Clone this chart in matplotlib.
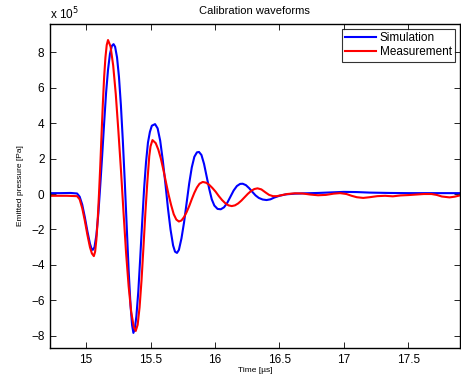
import matplotlib
matplotlib.use("Agg")
import matplotlib.pyplot as plt
from matplotlib.ticker import FuncFormatter

plt.rcParams['font.family'] = ['Liberation Sans', 'DejaVu Sans']

# --- dados (tempo em us, pressao em unidades de 1e5 Pa) ---
t_sim = [14.72, 14.80, 14.88, 14.93, 14.95, 14.97, 14.99, 15.01, 15.03, 15.042,
         15.052, 15.065, 15.08, 15.095, 15.11, 15.125, 15.14, 15.155, 15.17, 15.185, 15.20,
         15.213, 15.225, 15.24, 15.255, 15.27, 15.285, 15.30, 15.315, 15.33, 15.345,
         15.357, 15.367, 15.378, 15.39, 15.405, 15.42, 15.435, 15.45, 15.465, 15.48,
         15.495, 15.51, 15.535, 15.555, 15.575, 15.595, 15.615, 15.635, 15.655, 15.675,
         15.69, 15.705, 15.72, 15.74, 15.76, 15.78, 15.80, 15.82, 15.84, 15.86,
         15.876, 15.895, 15.915, 15.935, 15.955, 15.975, 15.995, 16.02, 16.045, 16.07,
         16.095, 16.12, 16.145, 16.17, 16.195, 16.215, 16.24, 16.265, 16.29, 16.315,
         16.34, 16.37, 16.40, 16.43, 16.46, 16.50, 16.55, 16.62, 16.70, 16.80,
         16.90, 17.00, 17.10, 17.20, 17.35, 17.50, 17.70, 17.90]
p_sim = [0.05, 0.05, 0.06, 0.03, -0.15, -0.6, -1.3, -2.1, -2.8, -3.08,
         -3.15, -3.0, -2.3, -1.1, 0.5, 2.2, 4.0, 5.7, 7.0, 7.9, 8.35,
         8.45, 8.3, 7.7, 6.6, 5.0, 3.0, 0.7, -1.8, -4.3, -6.3,
         -7.4, -7.83, -7.6, -6.9, -5.5, -3.6, -1.6, 0.3, 1.8, 2.9,
         3.5, 3.85, 3.94, 3.7, 3.0, 1.9, 0.6, -0.8, -2.0, -2.9,
         -3.25, -3.32, -3.15, -2.5, -1.6, -0.5, 0.6, 1.5, 2.1, 2.35,
         2.37, 2.2, 1.7, 1.0, 0.3, -0.3, -0.65, -0.84, -0.86, -0.75,
         -0.5, -0.15, 0.2, 0.45, 0.57, 0.58, 0.5, 0.33, 0.12, -0.08,
         -0.22, -0.31, -0.34, -0.3, -0.2, -0.1, -0.02, 0.02, 0.04, 0.06,
         0.09, 0.12, 0.11, 0.08, 0.06, 0.05, 0.05, 0.05]

t_med = [14.72, 14.85, 14.93, 14.95, 14.97, 14.99, 15.01, 15.03, 15.045, 15.06,
         15.07, 15.08, 15.09, 15.10, 15.11, 15.12, 15.13, 15.14, 15.15, 15.16,
         15.17, 15.18, 15.19, 15.21, 15.23, 15.25, 15.27, 15.29, 15.31, 15.33,
         15.35, 15.37, 15.385, 15.40, 15.415, 15.43, 15.445, 15.46, 15.475, 15.49,
         15.50, 15.515, 15.54, 15.56, 15.58, 15.60, 15.62, 15.64, 15.66, 15.68,
         15.70, 15.72, 15.74, 15.76, 15.78, 15.80, 15.82, 15.84, 15.86, 15.88,
         15.905, 15.93, 15.955, 15.98, 16.005, 16.03, 16.055, 16.08, 16.105, 16.13,
         16.155, 16.18, 16.205, 16.23, 16.255, 16.28, 16.305, 16.33, 16.36, 16.39,
         16.42, 16.45, 16.48, 16.52, 16.56, 16.62, 16.68, 16.74, 16.80, 16.86,
         16.92, 16.97, 17.02, 17.06, 17.10, 17.15, 17.20, 17.26, 17.32, 17.38,
         17.44, 17.50, 17.56, 17.62, 17.68, 17.72, 17.76, 17.82, 17.86, 17.90]
p_med = [-0.1, -0.1, -0.12, -0.3, -0.8, -1.5, -2.3, -3.0, -3.35, -3.5,
         -3.25, -2.55, -1.45, 0.0, 1.6, 3.4, 5.1, 6.6, 7.7, 8.4,
         8.68, 8.5, 8.3, 7.25, 5.65, 3.6, 1.4, -1.0, -3.3, -5.2,
         -6.65, -7.5, -7.72, -7.37, -6.38, -4.87, -3.0, -1.05, 0.67, 2.13,
         2.69, 3.04, 2.87, 2.51, 2.0, 1.35, 0.65, -0.04, -0.63, -1.14,
         -1.44, -1.55, -1.49, -1.3, -1.02, -0.68, -0.29, 0.07, 0.37, 0.58,
         0.68, 0.64, 0.52, 0.34, 0.13, -0.12, -0.34, -0.52, -0.64, -0.68,
         -0.64, -0.53, -0.37, -0.18, 0.01, 0.17, 0.28, 0.32, 0.26, 0.1,
         -0.05, -0.12, -0.12, -0.06, 0.0, 0.04, 0.03, -0.03, -0.07, -0.05,
         0.02, 0.05, 0.0, -0.1, -0.18, -0.22, -0.18, -0.12, -0.1, -0.13,
         -0.08, -0.06, -0.03, 0.0, 0.0, -0.05, -0.14, -0.19, -0.15, -0.08]

x_ticks = [15, 15.5, 16, 16.5, 17, 17.5]
y_ticks = [-8, -6, -4, -2, 0, 2, 4, 6, 8]

fig = plt.figure(figsize=(4.61, 3.82), dpi=100)
ax = fig.add_axes([0.1085, 0.089, 0.889, 0.848])

ax.plot(t_sim, [v * 1e5 for v in p_sim], color='blue', lw=1.5, label='Simulation')
ax.plot(t_med, [v * 1e5 for v in p_med], color='red', lw=1.5, label='Measurement')

ax.set_xlim(14.72, 17.9)
ax.set_ylim(-8.68e5, 9.58e5)
ax.set_xticks(x_ticks)
ax.set_yticks([v * 1e5 for v in y_ticks])
ax.xaxis.set_major_formatter(FuncFormatter(lambda v, p: '%g' % v))
ax.yaxis.set_major_formatter(
    FuncFormatter(lambda v, p: ('%g' % round(v / 1e5)).replace('-', '\u2212')))
ax.tick_params(direction='in', length=4, width=0.6, labelsize=8.5,
               top=True, right=True, pad=4)
for s in ax.spines.values():
    s.set_linewidth(1.0)

ax.text(0.0, 1.005, r'x 10$^5$', transform=ax.transAxes, fontsize=8.5,
        ha='left', va='bottom')
ax.set_title('Calibration waveforms', fontsize=8, pad=7)
ax.set_xlabel('Time [\u00b5s]', fontsize=6, labelpad=1)
ax.set_ylabel('Emitted pressure [Pa]', fontsize=6, labelpad=5)

leg = ax.legend(loc='upper right', fontsize=8.5, frameon=True, fancybox=False,
                borderaxespad=0.4, handlelength=2.6, borderpad=0.3,
                labelspacing=0.15, handletextpad=0.3)
leg.get_frame().set_edgecolor('black')
leg.get_frame().set_linewidth(0.8)

fig.savefig('out.png', dpi=100)
plt.close()
